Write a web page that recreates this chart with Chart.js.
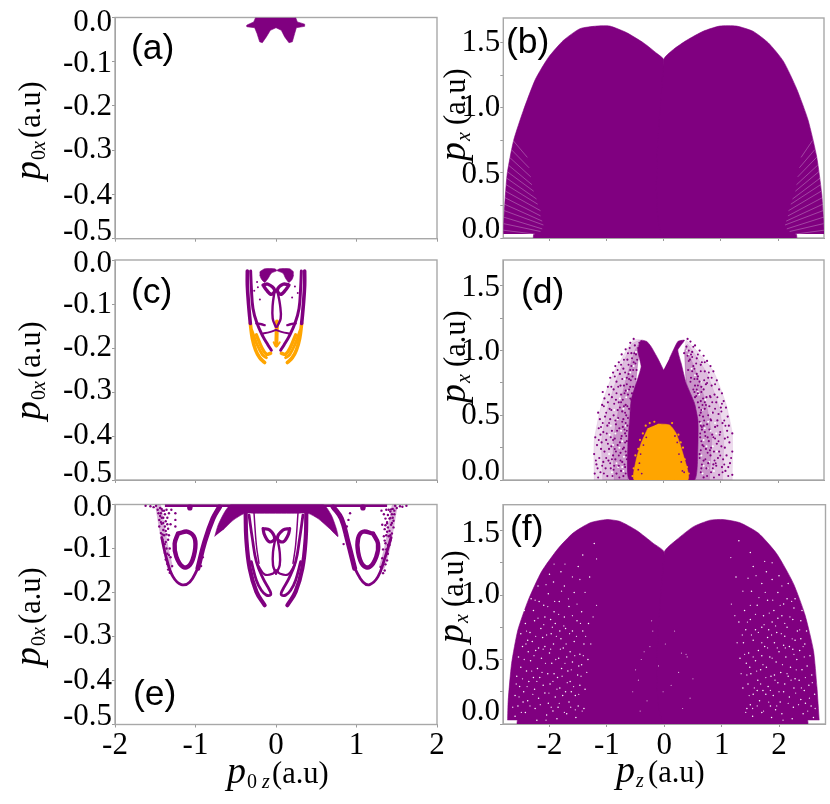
<!DOCTYPE html>
<html><head><meta charset="utf-8">
<script src="https://cdn.jsdelivr.net/npm/chart.js@4"></script>
<style>html,body{margin:0;padding:0;background:#fff}canvas{position:absolute;left:0;top:0}</style>
</head><body>
<script>
const PURPLE='#800080', ORANGE='#FFA500';
const xTicksLeft=[-2,-1,0,1,2];
const xTicksRight=[-2,-1,0,1,2];
const yTicksLeft=[0,-0.1,-0.2,-0.3,-0.4,-0.5];
const yTicksRight=[0,0.25,0.5,0.75,1,1.25,1.5];
const yLabelsRight=[0,0.5,1,1.5];

/* (a) */
const aBlob=[[-.253,0],[-.277,-.01],[-.36,-.017],[-.36,-.021],[-.265,-.023],[-.236,-.036],[-.203,-.055],[-.17,-.057],[-.12,-.044],[-.07,-.029],[0,-.023],[.066,-.029],[.108,-.044],[.161,-.057],[.203,-.055],[.232,-.036],[.253,-.023],[.356,-.02],[.356,-.015],[.265,-.01],[.244,0]];

/* (b) */
const bDomeL=[[-2.8,.03],[-2.8,.06],[-2.77,.29],[-2.73,.5],[-2.62,.75],[-2.45,.98],[-2.24,1.22],[-2.01,1.39],[-1.75,1.52],[-1.46,1.61],[-1.17,1.63],[-.94,1.63],[-.65,1.58],[-.35,1.5],[-.12,1.42],[0,1.37],[0,0],[-2.27,0],[-2.27,.03]];
const bDomeR=[[2.8,.03],[2.8,.06],[2.76,.34],[2.67,.63],[2.52,.91],[2.32,1.15],[2.09,1.36],[1.83,1.5],[1.56,1.59],[1.27,1.63],[.98,1.63],[.69,1.59],[.4,1.52],[.17,1.45],[0,1.37],[0,0],[2.32,0],[2.32,.03]];
const bStripeL=[[[-2.8,.06],[-2.25,.03]],[[-2.79,.11],[-2.15,.05]],[[-2.79,.16],[-2.12,.07]],[[-2.78,.21],[-2.1,.1]],[[-2.78,.26],[-2.12,.13]],[[-2.77,.31],[-2.15,.17]],[[-2.76,.36],[-2.15,.21]],[[-2.75,.41],[-2.2,.26]],[[-2.74,.46],[-2.22,.3]],[[-2.73,.51],[-2.27,.36]],[[-2.71,.56],[-2.3,.41]],[[-2.69,.62],[-2.32,.47]],[[-2.66,.68],[-2.35,.54]],[[-2.63,.75],[-2.38,.62]]];
const bStripeR=[[[2.8,.06],[2.3,.03]],[[2.79,.11],[2.2,.05]],[[2.79,.16],[2.15,.07]],[[2.78,.21],[2.12,.1]],[[2.78,.26],[2.14,.13]],[[2.77,.31],[2.17,.17]],[[2.75,.36],[2.18,.21]],[[2.74,.41],[2.22,.26]],[[2.73,.46],[2.25,.3]],[[2.71,.51],[2.3,.36]],[[2.69,.56],[2.32,.41]],[[2.67,.62],[2.34,.47]],[[2.64,.68],[2.37,.54]],[[2.6,.75],[2.4,.62]]];

/* (c) */
const cBlobL=[[-.203,-.027],[-.141,-.02],[-.017,-.02],[.012,-.024],[-.058,-.03],[-.099,-.042],[-.141,-.051],[-.182,-.043],[-.203,-.034]];
const cBlobR=[[.219,-.027],[.17,-.02],[.046,-.02],[.012,-.024],[.087,-.03],[.12,-.042],[.161,-.051],[.203,-.043],[.219,-.034]];
const cWingL=[[-.161,-.057],[-.099,-.055],[-.017,-.068],[-.058,-.078],[-.12,-.068],[-.161,-.057]];
const cWingR=[[.161,-.057],[.087,-.055],[.017,-.068],[.058,-.078],[.12,-.068],[.161,-.057]];
const cLoopL=[[-.017,-.07],[-.041,-.102],[-.041,-.133],[-.004,-.152]];
const cLoopR=[[.017,-.07],[.05,-.102],[.058,-.133],[.012,-.152]];
const cOuterL=[[-.356,-.025],[-.356,-.057],[-.34,-.102],[-.319,-.144]];
const cOuterR=[[.356,-.025],[.356,-.057],[.34,-.102],[.319,-.144]];
const cOuterLo=[[-.319,-.144],[-.294,-.178],[-.253,-.205],[-.203,-.222],[-.141,-.233]];
const cOuterRo=[[.319,-.144],[.294,-.178],[.253,-.205],[.203,-.222],[.141,-.233]];
const cInnerL=[[-.315,-.025],[-.306,-.064],[-.286,-.11],[-.236,-.144],[-.161,-.174],[-.1,-.193],[-.058,-.205]];
const cInnerR=[[.315,-.025],[.306,-.064],[.286,-.11],[.236,-.144],[.161,-.174],[.1,-.193],[.058,-.205]];
const cSecL=[[-.244,-.17],[-.182,-.197],[-.12,-.214],[-.066,-.212]];
const cSecR=[[.244,-.17],[.182,-.197],[.12,-.214],[.066,-.212]];
const cMidL=[[-.3,-.16],[-.24,-.19],[-.17,-.215],[-.12,-.222]];
const cMidR=[[.3,-.16],[.24,-.19],[.17,-.215],[.12,-.222]];
const cBarL=[[-.161,-.167],[-.079,-.164],[-.004,-.159]];
const cBarR=[[.161,-.167],[.079,-.164],[.004,-.159]];
const cCurlL=[[-.244,-.144],[-.18,-.146],[-.141,-.148]];
const cCurlR=[[.244,-.144],[.18,-.146],[.141,-.148]];
const cStem=[[.012,-.14],[.004,-.193]];
const cArrow=[[-.029,-.187],[.004,-.197],[.046,-.187]];
const cSpecks=[[-.235,-.05],[-.225,-.062],[-.2,-.09],[.2,-.085],[.235,-.06],[-.27,-.07],[.27,-.075]];

/* (d) */
const dBody=[[0,.85],[-.1,.94],[-.215,1.03],[-.29,1.07],[-.39,1.08],[-.45,1.005],[-.39,.876],[-.477,.747],[-.564,.619],[-.593,.464],[-.622,.258],[-.593,0],[.54,0],[.6,.258],[.6,.464],[.54,.593],[.395,.747],[.308,.902],[.25,1.005],[.366,1.08],[.25,1.07],[.105,.94]];
const dHaloL=[[-1.21,0],[-1.21,.3],[-1.09,.57],[-.88,.82],[-.53,1.08],[-.39,1.08],[-.45,.9],[-.5,.7],[-.6,.5],[-.62,0]];
const dHaloR=[[1.2,0],[1.2,.36],[1.09,.59],[.86,.85],[.4,1.08],[.37,1],[.4,.75],[.54,.59],[.6,.4],[.54,0]];
const dMidL=[[-1.06,0],[-1.08,.3],[-.98,.55],[-.8,.8],[-.55,1.05],[-.39,1.08],[-.45,.9],[-.5,.7],[-.6,.5],[-.62,0]];
const dMidR=[[1.03,0],[1.05,.34],[.96,.58],[.75,.83],[.42,1.05],[.37,1],[.4,.75],[.54,.59],[.6,.4],[.54,0]];
const dCoreL=[[-.86,0],[-.88,.3],[-.78,.55],[-.64,.8],[-.5,1],[-.39,1.08],[-.45,.9],[-.5,.7],[-.6,.5],[-.62,0]];
const dCoreR=[[.8,0],[.84,.33],[.75,.58],[.58,.82],[.4,1.02],[.37,1],[.4,.75],[.54,.59],[.6,.4],[.54,0]];
const dOrange=[[-.1,.433],[.105,.425],[.22,.36],[.337,.206],[.424,0],[-.506,0],[-.477,.155],[-.39,.283],[-.273,.4]];
const dDotsL=[[-1.2,.05],[-1.17,.12],[-1.21,.2],[-1.16,.27],[-1.19,.33],[-1.13,.4],[-1.11,.47],[-1.14,.52],[-1.07,.58],[-1.03,.63],[-1.06,.68],[-.97,.72],[-.93,.79],[-.88,.83],[-.84,.88],[-.78,.91],[-.73,.97],[-.66,1.01],[-.58,1.06],[-.52,1.09],[-1.1,.06],[-1.05,.14],[-1.12,.17],[-1.03,.22],[-1.08,.29],[-1,.31],[-1.05,.37],[-.98,.42],[-1.02,.49],[-.94,.55],[-.97,.6],[-.9,.64],[-.87,.7],[-.82,.76],[-.76,.82],[-.7,.86],[-.63,.93],[-.56,.98],[-.98,.03],[-.92,.09],[-.96,.15],[-.88,.19],[-.91,.26],[-.85,.32],[-.9,.38],[-.83,.43],[-.87,.5],[-.8,.54],[-.78,.6],[-.74,.66],[-.69,.73],[-.64,.79],[-.58,.85],[-.52,.91],[-.48,.97],[-.82,.05],[-.78,.11],[-.84,.16],[-.75,.21],[-.8,.27],[-.73,.34],[-.77,.4],[-.7,.47],[-.72,.53],[-.66,.58],[-.62,.66],[-.58,.72],[-.54,.8],[-.47,.85],[-.7,.03],[-.67,.1],[-.72,.14],[-.65,.19],[-.69,.25],[-.64,.3],[-.67,.36],[-.63,.42],[-.65,.5],[-.6,.55],[-.56,.62],[-.5,.68],[-.44,1.02],[-.5,1.04],[-.42,1.06],[-1.15,.09],[-1.09,.24],[-1.1,.35],[-1.01,.09],[-.95,.24],[-.93,.47],[-.86,.11],[-.74,.07],[-.76,.29],[-.71,.41],[-.83,.62],[-.75,.73],[-.66,.69],[-.6,.78],[-.55,.67]];
const dDotsR=[[1.2,.04],[1.16,.13],[1.2,.22],[1.15,.29],[1.2,.36],[1.14,.42],[1.12,.49],[1.09,.56],[1.05,.61],[1.02,.67],[.97,.7],[.93,.77],[.87,.84],[.82,.88],[.76,.92],[.7,.96],[.63,1],[.55,1.04],[.47,1.07],[.42,1.09],[1.08,.07],[1.04,.16],[1.1,.19],[1.01,.26],[1.07,.32],[.99,.37],[1.03,.44],[.96,.51],[1,.56],[.92,.6],[.89,.66],[.84,.73],[.78,.79],[.72,.84],[.65,.89],[.58,.94],[.5,.99],[.97,.04],[.92,.11],[.95,.17],[.88,.22],[.93,.28],[.85,.35],[.9,.41],[.83,.46],[.86,.52],[.8,.57],[.75,.64],[.7,.7],[.63,.76],[.58,.82],[.52,.88],[.46,.93],[.83,.06],[.78,.13],[.82,.19],[.74,.24],[.79,.3],[.72,.37],[.76,.43],[.69,.49],[.72,.55],[.65,.61],[.6,.67],[.55,.73],[.48,.79],[.43,.85],[.7,.02],[.66,.09],[.7,.15],[.63,.2],[.68,.27],[.64,.33],[.67,.39],[.63,.45],[.65,.52],[.6,.6],[.55,.64],[.44,1],[.4,1.03],[.36,.98],[1.13,.1],[1.07,.25],[1.11,.38],[1.02,.1],[.97,.22],[.94,.46],[.87,.12],[.75,.09],[.77,.33],[.7,.42],[.82,.64],[.74,.74],[.66,.72],[.6,.8],[.54,.68]];
const dDots2L=[[-1.18,.15],[-1.14,.02],[-1.07,.11],[-1.13,.31],[-1.06,.44],[-1.09,.41],[-1,.52],[-1.04,.57],[-.95,.66],[-.91,.72],[-.85,.8],[-.8,.85],[-.74,.89],[-.69,.93],[-.62,.98],[-.59,1.02],[-1.04,.05],[-1,.17],[-.97,.28],[-.99,.36],[-.95,.44],[-.91,.54],[-.86,.59],[-.82,.67],[-.79,.72],[-.72,.78],[-.67,.83],[-.61,.89],[-.55,.94],[-.89,.03],[-.87,.08],[-.9,.16],[-.85,.24],[-.88,.31],[-.81,.38],[-.84,.46],[-.79,.48],[-.76,.56],[-.71,.62],[-.68,.67],[-.64,.74],[-.57,.77],[-.53,.85],[-.49,.9],[-.77,.02],[-.75,.15],[-.78,.19],[-.71,.24],[-.74,.32],[-.68,.39],[-.72,.45],[-.67,.52],[-.63,.57],[-.58,.63],[-.53,.72],[-.49,.78],[-.46,.93],[-.66,.05],[-.68,.12],[-.64,.16],[-.66,.22],[-.67,.29],[-.65,.34],[-.64,.38],[-.66,.44],[-.62,.48],[-.93,.13],[-.83,.22],[-.92,.33],[-.69,.57],[-.74,.6],[-.6,.7],[-.56,.88],[-.61,.82],[-.51,.98]];
const dDots2R=[[1.18,.17],[1.13,.03],[1.06,.12],[1.12,.33],[1.06,.46],[1.08,.42],[1.01,.53],[1.02,.59],[.94,.64],[.9,.74],[.84,.79],[.79,.83],[.72,.91],[.67,.91],[.6,.97],[.52,1.03],[1.03,.06],[.99,.19],[.96,.3],[.98,.35],[.94,.42],[.9,.55],[.85,.6],[.81,.65],[.76,.75],[.71,.77],[.65,.84],[.57,.9],[.5,.95],[.88,.02],[.86,.09],[.89,.15],[.83,.25],[.87,.33],[.8,.39],[.82,.47],[.78,.5],[.74,.58],[.69,.63],[.66,.68],[.6,.73],[.54,.78],[.5,.84],[.44,.92],[.76,.03],[.73,.16],[.77,.21],[.7,.26],[.73,.34],[.67,.41],[.71,.46],[.66,.54],[.62,.56],[.57,.65],[.52,.7],[.47,.76],[.42,.96],[.65,.06],[.67,.12],[.63,.17],[.65,.23],[.66,.3],[.64,.36],[.65,.42],[.63,.5],[.91,.13],[.81,.23],[.9,.32],[.68,.58],[.72,.6],[.58,.7],[.54,.86],[.59,.78],[.48,.97]];
const dWhiteL=[[-.9,.06],[-.82,.13],[-.88,.27],[-.77,.25],[-.84,.36],[-.72,.3],[-.8,.47],[-.7,.55],[-.76,.63],[-.65,.64],[-.68,.78],[-.58,.83],[-.52,.88],[-.72,.1],[-.69,.18],[-.74,.38],[-.66,.42],[-.7,.07],[-.63,.69],[-.48,.99],[-.43,1.03],[-.95,.2],[-.92,.42],[-.86,.54],[-.79,.1],[-.94,.35]];
const dWhiteR=[[.88,.07],[.8,.14],[.86,.26],[.75,.26],[.82,.38],[.7,.31],[.78,.45],[.68,.54],[.73,.62],[.62,.66],[.65,.76],[.55,.81],[.49,.86],[.7,.11],[.66,.19],[.72,.4],[.65,.44],[.68,.05],[.6,.68],[.44,.97],[.41,1],[.93,.22],[.9,.44],[.84,.52],[.77,.09],[.92,.36]];
const dOrangeDots=[[-.52,.09],[-.49,.19],[-.47,.05],[-.44,.24],[-.41,.31],[-.36,.36],[-.31,.42],[-.24,.44],[-.16,.45],[.26,.35],[.3,.29],[.34,.25],[.37,.16],[.41,.1],[.44,.05],[.38,.03],[.15,.44],[-.54,.03]];
const dPurpleInOrange=[[-.42,.13],[-.4,.2],[-.35,.27],[-.3,.33],[.24,.29],[.27,.2],[.31,.14],[.33,.07],[-.38,.05],[-.44,.08],[.36,.06],[.2,.34]];

/* (e) */
const eArch=[[-.762,-.073],[-.72,-.047],[-.638,-.017],[-.555,0],[.584,0],[.687,-.024],[.75,-.055],[.77,-.073],[.667,-.055],[.522,-.032],[.398,-.02],[.232,-.02],[-.244,-.02],[-.389,-.02],[-.534,-.036],[-.658,-.058]];
const eTop=[[-1.38,-.002],[1.38,-.002]];
const eLobeLUp=[[-.97,-.145],[-.886,-.085],[-.783,-.032],[-.7,-.005]];
const eLobeLDn=[[-1.42,-.075],[-1.36,-.123],[-1.28,-.164],[-1.176,-.182],[-1.07,-.176],[-.97,-.145]];
const eLobeRUp=[[.977,-.145],[.894,-.085],[.812,-.032],[.708,-.005]];
const eLobeRDn=[[1.43,-.075],[1.35,-.123],[1.267,-.164],[1.164,-.182],[1.08,-.176],[.977,-.145]];
const eHazeL=[[-1.46,-.006],[-1.42,-.05],[-1.37,-.1],[-1.32,-.14]];
const eHazeR=[[1.47,-.006],[1.43,-.05],[1.38,-.1],[1.32,-.14]];
const eRingL=[[-1.217,-.066],[-1.093,-.062],[-1.01,-.077],[-1.01,-.108],[-1.072,-.138],[-1.155,-.142],[-1.238,-.119],[-1.259,-.089],[-1.217,-.066]];
const eRingR=[[1.205,-.066],[1.08,-.062],[1.02,-.077],[1.02,-.108],[1.08,-.138],[1.164,-.142],[1.246,-.119],[1.267,-.089],[1.205,-.066]];
const eS1L=[[-.377,-.02],[-.369,-.077],[-.327,-.145],[-.244,-.198],[-.141,-.229]];
const eS1R=[[.377,-.02],[.369,-.077],[.327,-.145],[.244,-.198],[.141,-.229]];
const eS2L=[[-.335,-.024],[-.294,-.077],[-.244,-.13],[-.161,-.168],[-.079,-.195],[-.066,-.205],[-.12,-.206],[-.182,-.195],[-.244,-.172],[-.306,-.13]];
const eS2R=[[.335,-.024],[.294,-.077],[.244,-.13],[.161,-.168],[.079,-.195],[.066,-.205],[.12,-.206],[.182,-.195],[.244,-.172],[.306,-.13]];
const eS3L=[[-.273,-.02],[-.244,-.092],[-.211,-.134]];
const eS3R=[[.273,-.02],[.244,-.092],[.211,-.134]];
const eSmile=[[-.224,-.138],[-.141,-.159],[-.037,-.157],[0,-.149],[.046,-.157],[.149,-.159],[.232,-.138]];
const eWingL=[[-.161,-.055],[-.079,-.058],[-.017,-.077],[-.079,-.085],[-.141,-.07],[-.161,-.055]];
const eWingR=[[.17,-.055],[.087,-.058],[.017,-.077],[.087,-.085],[.149,-.07],[.17,-.055]];
const eLoopL=[[-.008,-.077],[-.037,-.108],[-.037,-.138],[0,-.157]];
const eLoopR=[[.017,-.077],[.046,-.108],[.046,-.138],[0,-.157]];
const eDots=[[-1.62,-.003],[-1.56,-.004],[-1.52,-.006],[-1.49,-.003],[-1.47,-.012],[-1.44,-.008],[-1.43,-.02],[-1.41,-.014],[-1.4,-.03],[-1.38,-.022],[-1.37,-.038],[-1.36,-.012],[-1.44,-.026],[-1.42,-.044],[-1.4,-.058],[-1.38,-.05],[-1.36,-.068],[-1.34,-.055],[-1.45,-.05],[-1.43,-.065],[-1.41,-.08],[-1.38,-.09],[-1.36,-.1],[-1.34,-.08],[-1.32,-.1],[-1.39,-.07],[-1.35,-.03],[-1.33,-.02],[-1.31,-.045],[-1.3,-.012],[-1.25,-.02],[-1.25,-.035],[-1.25,-.05],[-1.31,-.12],[-1.29,-.14],[-1.37,-.085],[-1.4,-.042],[-1.42,-.03],[-1.39,-.014],[-1.33,-.115],[-1.35,-.112],[-.93,-.14],[-.91,-.12],[-1.46,-.02],[-1.45,-.035],[-1.43,-.04],[-1.41,-.068],[-1.4,-.09],[-1.38,-.11],[-1.37,-.125],[-1.35,-.135],[-1.34,-.148],[-1.32,-.155],[-1.42,-.01],[-1.37,-.06],[-1.33,-.07],[-1.35,-.045]];
const eDotsR=[[1.62,-.003],[1.57,-.005],[1.54,-.004],[1.5,-.008],[1.48,-.003],[1.47,-.014],[1.45,-.01],[1.44,-.022],[1.42,-.016],[1.41,-.032],[1.39,-.024],[1.38,-.04],[1.37,-.012],[1.45,-.03],[1.43,-.046],[1.41,-.06],[1.39,-.052],[1.37,-.07],[1.35,-.056],[1.46,-.052],[1.44,-.066],[1.42,-.082],[1.39,-.092],[1.37,-.102],[1.35,-.082],[1.33,-.102],[1.4,-.072],[1.36,-.032],[1.34,-.022],[1.32,-.046],[1.31,-.014],[.92,-.02],[.9,-.035],[.88,-.05],[1.32,-.122],[1.3,-.142],[.86,-.07],[.84,-.09],[1.36,-.088],[1.38,-.043],[1.42,-.031],[1.4,-.012],[1.47,-.022],[1.46,-.037],[1.44,-.042],[1.42,-.07],[1.41,-.092],[1.39,-.112],[1.38,-.127],[1.36,-.136],[1.35,-.15],[1.33,-.156],[1.43,-.011],[1.38,-.062],[1.34,-.072],[1.36,-.047]];
const eBlobs=[[-1.07,-.005],[-1.07,-.008],[1.08,-.005],[1.08,-.008]];

/* (f) */
const fDomeL=[[-2.73,.03],[-2.72,.18],[-2.66,.47],[-2.55,.73],[-2.37,.96],[-2.14,1.18],[-1.85,1.36],[-1.59,1.48],[-1.29,1.56],[-1,1.585],[-.77,1.57],[-.48,1.5],[-.19,1.4],[0,1.33],[0,0],[-2.56,0],[-2.56,.03]];
const fDomeR=[[2.7,.03],[2.66,.29],[2.6,.57],[2.45,.85],[2.25,1.09],[1.96,1.32],[1.64,1.48],[1.32,1.56],[1.03,1.585],[.8,1.58],[.51,1.53],[.22,1.43],[0,1.33],[0,0],[2.5,0],[2.5,.03]];
const fSpecksL=[[-2.6,.06],[-2.55,.14],[-2.6,.22],[-2.52,.29],[-2.57,.37],[-2.5,.44],[-2.54,.52],[-2.47,.6],[-2.5,.7],[-2.42,.78],[-2.44,.88],[-2.32,.97],[-2.2,1.07],[-2.42,.09],[-2.38,.18],[-2.45,.25],[-2.36,.33],[-2.4,.41],[-2.33,.49],[-2.37,.56],[-2.3,.64],[-2.34,.71],[-2.26,.8],[-2.28,.88],[-2.18,.95],[-2.22,.03],[-2.25,.12],[-2.19,.2],[-2.26,.27],[-2.17,.36],[-2.21,.43],[-2.14,.51],[-2.19,.59],[-2.12,.67],[-2.15,.74],[-2.08,.83],[-2.1,.92],[-2.02,1.01],[-1.93,1.1],[-2.05,.07],[-2.02,.16],[-2.08,.24],[-1.99,.31],[-2.03,.39],[-1.96,.47],[-2,.55],[-1.93,.62],[-1.97,.7],[-1.9,.78],[-1.92,.87],[-1.83,.95],[-1.74,1.07],[-1.87,.04],[-1.85,.13],[-1.9,.21],[-1.82,.28],[-1.86,.36],[-1.79,.43],[-1.84,.51],[-1.76,.59],[-1.8,.66],[-1.72,.74],[-1.74,.83],[-1.66,.91],[-1.57,1.02],[-1.7,.08],[-1.66,.17],[-1.72,.25],[-1.64,.33],[-1.68,.41],[-1.6,.48],[-1.64,.56],[-1.57,.64],[-1.6,.72],[-1.52,.8],[-1.44,.87],[-1.54,.05],[-1.5,.14],[-1.55,.22],[-1.47,.3],[-1.51,.38],[-1.44,.46],[-1.47,.54],[-1.4,.62],[-1.42,.72],[-1.32,.78],[-1.33,.5],[-1.38,.27],[-1.4,.12],[-1.3,1.14],[-1.5,1.22],[-1.42,1.31],[-1.22,1.4],[-1.8,1.18],[-2,1.16],[-2.46,.17],[-2.28,.36],[-2.11,.3],[-1.94,.1],[-1.77,.22],[-1.62,.25],[-1.49,.45],[-1.92,.39],[-2.08,.6],[-2.24,.57],[-2.38,.65],[-1.7,.52],[-1.82,.72],[-1.98,.81]];
const fSpecksR=[[2.6,.05],[2.56,.14],[2.62,.23],[2.52,.3],[2.57,.38],[2.49,.45],[2.54,.53],[2.45,.62],[2.48,.72],[2.38,.8],[2.4,.88],[2.28,.97],[2.16,1.09],[2.42,.08],[2.38,.19],[2.44,.26],[2.35,.34],[2.4,.42],[2.31,.5],[2.36,.57],[2.28,.65],[2.32,.72],[2.24,.81],[2.26,.9],[2.14,.97],[2.23,.04],[2.25,.13],[2.18,.21],[2.26,.28],[2.16,.37],[2.2,.44],[2.12,.52],[2.18,.6],[2.1,.68],[2.14,.75],[2.05,.84],[2.08,.93],[1.98,1.02],[1.88,1.12],[2.05,.08],[2.02,.17],[2.08,.25],[1.98,.32],[2.03,.4],[1.95,.48],[2,.56],[1.92,.63],[1.96,.71],[1.88,.79],[1.91,.88],[1.8,.96],[1.7,1.09],[1.87,.05],[1.85,.14],[1.9,.22],[1.81,.29],[1.86,.37],[1.78,.44],[1.84,.52],[1.75,.6],[1.8,.67],[1.7,.75],[1.73,.84],[1.62,.92],[1.52,1.03],[1.7,.09],[1.66,.18],[1.72,.26],[1.63,.34],[1.68,.42],[1.59,.49],[1.64,.57],[1.55,.65],[1.59,.73],[1.5,.81],[1.4,.88],[1.54,.06],[1.5,.15],[1.55,.23],[1.46,.31],[1.51,.39],[1.43,.47],[1.47,.55],[1.38,.63],[1.42,.73],[1.3,.79],[1.32,.51],[1.37,.28],[1.44,.12],[1.25,1.14],[1.55,1.22],[1.5,1.33],[1.3,1.42],[1.78,1.18],[2,1.15],[2.46,.16],[2.28,.35],[2.1,.31],[1.94,.11],[1.77,.23],[1.62,.26],[1.49,.44],[1.92,.38],[2.08,.61],[2.24,.58],[2.38,.66],[1.7,.53],[1.82,.73],[1.98,.82]];
const fSpecks2L=[[-2.64,.13],[-2.58,.31],[-2.49,.09],[-2.53,.21],[-2.47,.35],[-2.44,.5],[-2.41,.62],[-2.39,.29],[-2.34,.14],[-2.31,.41],[-2.29,.23],[-2.27,.53],[-2.24,.68],[-2.22,.33],[-2.2,.82],[-2.16,.15],[-2.13,.4],[-2.11,.58],[-2.1,.77],[-2.07,.47],[-2.06,.03],[-2.05,.69],[-2.03,.91],[-2.01,.24],[-1.98,.58],[-1.97,.13],[-1.95,.75],[-1.94,.33],[-1.91,.95],[-1.89,.5],[-1.88,.68],[-1.87,.27],[-1.84,.85],[-1.83,.16],[-1.81,.58],[-1.79,1.03],[-1.78,.37],[-1.75,.76],[-1.74,.09],[-1.73,.47],[-1.71,.62],[-1.69,.32],[-1.67,.97],[-1.65,.7],[-1.63,.13],[-1.62,.42],[-1.6,.84],[-1.58,.29],[-1.56,.53],[-1.55,.11],[-1.53,.68],[-1.52,.93],[-1.49,.23],[-1.46,.78],[-1.45,.37],[-1.43,.1],[-1.41,.53],[-1.37,.68],[-1.35,.4],[-1.28,.62],[-1.24,.83],[-1.18,.92],[-1.6,1.14],[-1.73,1.24],[-1.92,1.24],[-2.06,1.08],[-1.38,1.02],[-1.47,1.12],[-1.18,1.28],[-2.25,.96],[-2.4,.72]];
const fSpecks2R=[[2.63,.12],[2.58,.32],[2.5,.1],[2.53,.2],[2.46,.36],[2.44,.52],[2.42,.6],[2.39,.28],[2.34,.15],[2.3,.42],[2.29,.24],[2.26,.54],[2.23,.66],[2.21,.34],[2.19,.83],[2.16,.16],[2.14,.39],[2.11,.59],[2.1,.78],[2.06,.46],[2.07,.03],[2.04,.7],[2.02,.92],[2,.25],[1.97,.59],[1.96,.14],[1.94,.76],[1.93,.34],[1.89,.96],[1.88,.51],[1.87,.69],[1.85,.26],[1.83,.86],[1.82,.17],[1.8,.59],[1.76,1.02],[1.77,.36],[1.74,.77],[1.73,.1],[1.72,.46],[1.7,.63],[1.68,.31],[1.65,.98],[1.64,.71],[1.62,.14],[1.61,.41],[1.59,.85],[1.57,.28],[1.55,.52],[1.54,.12],[1.52,.69],[1.5,.92],[1.48,.22],[1.45,.79],[1.44,.38],[1.42,.09],[1.4,.54],[1.36,.69],[1.34,.39],[1.27,.63],[1.23,.84],[1.17,.93],[1.6,1.15],[1.75,1.26],[1.88,1.25],[2.05,1.07],[1.37,1.03],[1.46,1.13],[1.16,1.29],[2.22,.95],[2.36,.73]];
const fSpecksC=[[-.22,.8],[-.2,.72],[-.25,.6],[-.35,.56],[-.4,.5],[-.5,.42],[-.45,.34],[-.55,.25],[-.3,.18],[-.42,.1],[.18,.72],[.3,.55],[.38,.54],[.4,.52],[.25,.4],[.5,.35],[.12,.3],[.45,.2],[.32,.12],[-.1,.45],[.02,.62],[-.02,.25]];

const px=v=>v.map(([x,y])=>({x,y}));
const area=(a,c,t)=>({type:'scatter',showLine:true,data:px(a),backgroundColor:c,borderColor:c,borderWidth:.6,fill:'shape',pointRadius:0,tension:t||0});
const curve=(a,c,w)=>({type:'scatter',showLine:true,data:px(a),borderColor:c,backgroundColor:c,borderWidth:w,fill:false,pointRadius:0,tension:.4,borderCapStyle:'round',borderJoinStyle:'round'});
const rule=(a,c,w)=>({type:'scatter',showLine:true,data:px(a),borderColor:c,borderWidth:w,fill:false,pointRadius:0,tension:0});
const dots=(a,c,r)=>({type:'scatter',showLine:false,data:px(a),backgroundColor:c,borderWidth:0,pointRadius:r,pointHoverRadius:r});

const serif='"Liberation Serif"';
const AXIS='#9a9a9a';
const stripeColor='rgba(255,255,255,.3)';
const haze='rgba(128,0,128,.14)';
const panels=[
 {id:'a',box:[115,17.5,437,238.7],xr:[-2,2],yr:[-.5,0],xt:xTicksLeft,left:true,
  ds:[area(aBlob,PURPLE)],
  tag:['(a)',131,59],off:[5,2,1,0,1,-7],
  ytitle:{x:40,y:180,sub:'0x'}},
 {id:'b',box:[503.3,18,824,238],xr:[-2.8,2.8],yr:[0,1.692],xt:xTicksRight,
  ds:[area(bDomeL,PURPLE,.2),area(bDomeR,PURPLE,.2),...bStripeL.concat(bStripeR).map(s=>rule(s,stripeColor,.9))],
  tag:['(b)',506,53],off:[-8,0,2,0,0,0,0],
  ytitle:{x:465,y:161,sub:'x'}},
 {id:'c',box:[115,260,437,480],xr:[-2,2],yr:[-.5,0],xt:xTicksLeft,left:true,
  ds:[curve(cMidL,ORANGE,3),curve(cMidR,ORANGE,3),curve(cSecL,ORANGE,3.4),curve(cSecR,ORANGE,3.4),curve(cOuterLo,ORANGE,3.6),curve(cOuterRo,ORANGE,3.6),
      curve(cStem,ORANGE,4),curve(cArrow,ORANGE,2),
      area(cBlobL,PURPLE,.2),area(cBlobR,PURPLE,.2),curve(cWingL,PURPLE,3.4),curve(cWingR,PURPLE,3.4),
      curve(cOuterL,PURPLE,3.6),curve(cOuterR,PURPLE,3.6),curve(cInnerL,PURPLE,3),curve(cInnerR,PURPLE,3),
      curve(cLoopL,PURPLE,2.4),curve(cLoopR,PURPLE,2.4),curve(cBarL,PURPLE,2),curve(cBarR,PURPLE,2),curve(cCurlL,PURPLE,2.4),curve(cCurlR,PURPLE,2.4),
      dots(cSpecks,PURPLE,1)],
  tag:['(c)',131,303],off:[4,1,0,-1,0,-6],
  ytitle:{x:40,y:420,sub:'0x'}},
 {id:'d',box:[503,260,824,480],xr:[-2.8,2.8],yr:[0,1.7],xt:xTicksRight,
  ds:[area(dHaloL,haze,.15),area(dHaloR,haze,.15),area(dMidL,haze,.15),area(dMidR,haze,.15),
      area(dCoreL,'rgba(128,0,128,.22)',.15),area(dCoreR,'rgba(128,0,128,.22)',.15),
      dots(dWhiteL,'#fff',1),dots(dWhiteR,'#fff',1),
      dots(dDotsL,PURPLE,1.1),dots(dDotsR,PURPLE,1.1),dots(dDots2L,PURPLE,1),dots(dDots2R,PURPLE,1),area(dBody,PURPLE,.15),
      area(dOrange,ORANGE,.2),dots(dOrangeDots,ORANGE,1.1),dots(dPurpleInOrange,PURPLE,.9)],
  tag:['(d)',521,303],off:[-8,0,1,0,1,0,2],
  ytitle:{x:465,y:403,sub:'x'}},
 {id:'e',box:[115,504.5,437,724.5],xr:[-2,2],yr:[-.5,0],xt:xTicksLeft,left:true,bottom:true,
  ds:[rule(eTop,PURPLE,3),area(eArch,PURPLE,.2),
      curve(eHazeL,'rgba(128,0,128,.3)',6),curve(eHazeR,'rgba(128,0,128,.3)',6),
      curve(eLobeLUp,PURPLE,5),curve(eLobeRUp,PURPLE,5),curve(eLobeLDn,PURPLE,2.8),curve(eLobeRDn,PURPLE,2.8),
      curve(eRingL,PURPLE,4.4),curve(eRingR,PURPLE,4.4),
      curve(eS1L,PURPLE,4.2),curve(eS1R,PURPLE,4.2),curve(eS2L,PURPLE,2.8),curve(eS2R,PURPLE,2.8),
      curve(eS3L,PURPLE,1.5),curve(eS3R,PURPLE,1.5),curve(eSmile,PURPLE,2.2),
      curve(eWingL,PURPLE,3.2),curve(eWingR,PURPLE,3.2),curve(eLoopL,PURPLE,2.4),curve(eLoopR,PURPLE,2.4),
      dots(eDots,PURPLE,1.2),dots(eDotsR,PURPLE,1.2),dots(eBlobs,PURPLE,2.6)],
  tag:['(e)',133,705],off:[3,0,0,-1,0,-8],
  ytitle:{x:40,y:666,sub:'0x'},
  xtitle:{x:227,y:783,sub:'0 z',gap:45}},
 {id:'f',box:[503,504.7,825.5,724],xr:[-2.81,2.81],yr:[0,1.7],xt:xTicksRight,bottom:true,
  ds:[area(fDomeL,PURPLE,.2),area(fDomeR,PURPLE,.2),dots(fSpecksL,'#fff',.75),dots(fSpecksR,'#fff',.75),dots(fSpecks2L,'#f2dcf2',.65),dots(fSpecks2R,'#f2dcf2',.65),dots(fSpecksC,'#d8a8d8',.6)],
  tag:['(f)',510,540],off:[-12,0,2,0,0,0,3],
  ytitle:{x:463,y:643,sub:'x'},
  xtitle:{x:616,y:782,sub:'z',gap:32}}
];

const seg=(ctx,t,x,y,font)=>{ctx.font=font;ctx.fillText(t,x,y);};
const drawTitle=(ctx,t)=>{
  const sub=t.sub;
  seg(ctx,'p',0,0,'italic 38px '+serif);
  let xx=20;
  for(const ch of sub){
    if(ch===' '){xx+=5;continue;}
    ctx.font=(ch==='0'?'':'italic ')+'20px '+serif;
    ctx.fillText(ch,xx,5);
    xx+=ctx.measureText(ch).width;
  }
  const gap=t.gap||(sub==='x'?36:42);
  seg(ctx,'(a.u)',gap,0,'30.5px '+serif);
};

panels.forEach(p=>{
  const cv=document.createElement('canvas');
  cv.width=830;cv.height=804;cv.style.width='830px';cv.style.height='804px';
  document.body.appendChild(cv);
  const [L,T,R,B]=p.box;
  const yt=p.left?yTicksLeft:yTicksRight;
  const xAxisH=p.bottom?46:0;
  const overlay={id:'overlay',
    beforeDatasetsDraw(chart){
      const a=chart.chartArea,c=chart.ctx;
      c.save();c.strokeStyle='#a8a8a8';c.lineWidth=1.4;
      c.strokeRect(a.left,a.top,a.right-a.left,a.bottom-a.top);c.restore();
    },
    afterDraw(chart){
      const c=chart.ctx,ys=chart.scales.y;
      c.save();c.fillStyle='#000';
      c.textBaseline='middle';c.textAlign='right';c.font='31px '+serif;
      const labelRight=chart.chartArea.left-3;
      ys.ticks.forEach((t,i)=>{
        const txt=t.label;
        if(!txt)return;
        c.fillText(txt,labelRight,ys.getPixelForTick(i)+(p.off[i]||0));
      });
      c.textAlign='left';c.textBaseline='alphabetic';
      c.font='35.5px "Liberation Sans"';
      c.fillText(p.tag[0],p.tag[1],p.tag[2]);
      c.save();c.translate(p.ytitle.x,p.ytitle.y);c.rotate(-Math.PI/2);drawTitle(c,p.ytitle);c.restore();
      if(p.xtitle){c.save();c.translate(p.xtitle.x,p.xtitle.y);drawTitle(c,p.xtitle);c.restore();}
      c.restore();
    }};
  new Chart(cv.getContext('2d'),{
    data:{datasets:p.ds.slice().reverse()},
    plugins:[overlay],
    options:{
      responsive:false,animation:false,devicePixelRatio:1,
      layout:{padding:{left:L,top:T,right:830-R,bottom:804-B-xAxisH}},
      plugins:{legend:{display:false},tooltip:{enabled:false},title:{display:false}},
      events:[],
      scales:{
        x:{type:'linear',position:'bottom',min:p.xr[0],max:p.xr[1],
          grid:{drawOnChartArea:false,drawTicks:true,tickLength:3,color:AXIS},
          border:{display:true,color:AXIS},
          afterBuildTicks:s=>{s.ticks=p.xt.map(v=>({value:v}));},
          afterFit:s=>{s.height=xAxisH;s.paddingLeft=0;s.paddingRight=0;},
          ticks:{display:!!p.bottom,autoSkip:false,maxRotation:0,padding:0,color:'#000',font:{family:'Liberation Serif',size:31},
            callback:v=>String(v)}},
        y:{type:'linear',position:'left',min:p.yr[0],max:p.yr[1],
          grid:{drawOnChartArea:false,drawTicks:true,tickLength:3,color:AXIS},
          border:{display:true,color:AXIS},
          afterBuildTicks:s=>{s.ticks=yt.map(v=>({value:v}));},
          afterFit:s=>{s.width=0;s.paddingTop=0;s.paddingBottom=0;},
          ticks:{display:false,autoSkip:false,
            callback:v=>{ if(p.left) return v.toFixed(1); return yLabelsRight.includes(v)?v.toFixed(1):''; }}}
      }
    }
  });
});
</script>
</body></html>
